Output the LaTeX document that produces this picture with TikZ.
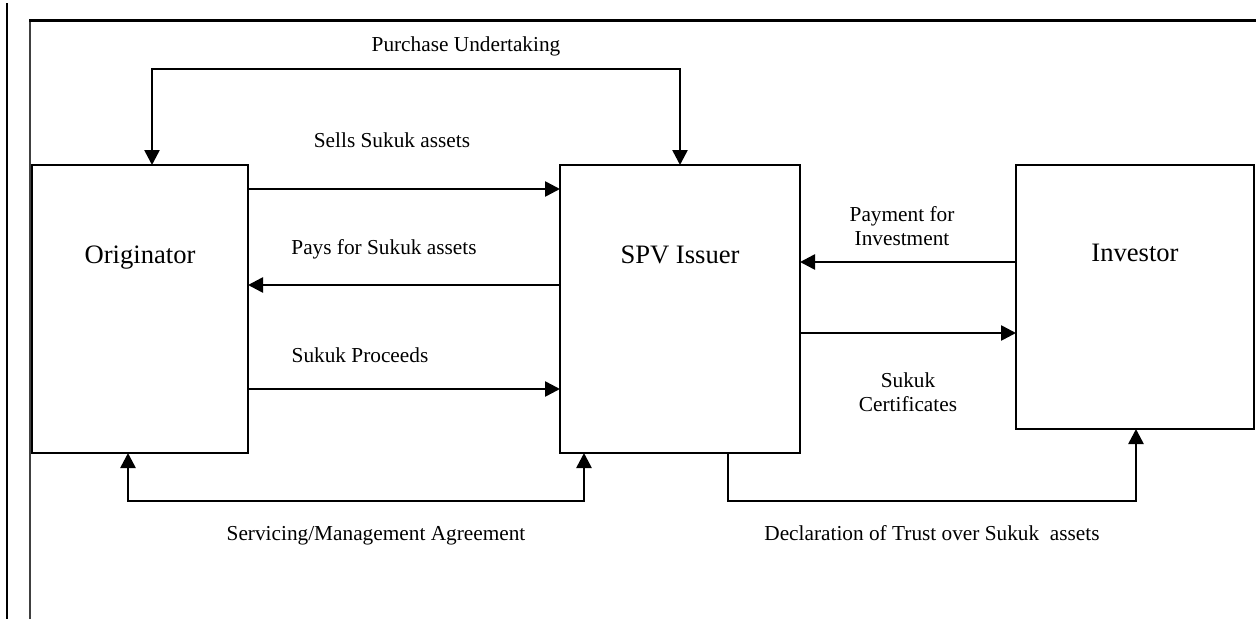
\documentclass[tikz,border=0pt]{standalone}
\usepackage{fontspec}
\setmainfont{Liberation Serif}
\usepackage{tikz}
\usetikzlibrary{positioning,arrows.meta}
\tikzset{
	entity/.style={draw=black, line width=2pt, inner sep=0pt, outer sep=0pt, anchor=north west, text height=18pt, font=\fontsize{26.6}{32}\selectfont},
	flow/.style={line width=2.6pt, -{Triangle[length=15pt,width=15pt]}},
	flowboth/.style={line width=2.6pt, {Triangle[length=15pt,width=15pt]}-{Triangle[length=15pt,width=15pt]}},
	lbl/.style={inner sep=0pt, align=center, font=\fontsize{21.3}{24}\selectfont}
}

\begin{document}
\begin{tikzpicture}[x=1pt,y=-1pt]
		\useasboundingbox (0,0) rectangle (1256,619);
		% page frame
		\draw[line width=2pt] (7,3) -- (7,619);
		\draw[line width=2pt,black!75] (30,619) -- (30,20);
		\draw[line width=3pt] (29,20) -- (1256,20);
		
		\node[entity, minimum width=216pt, minimum height=288pt, text depth=110pt] (orig) at (32,165) {Originator};
		\node[entity, minimum width=240pt, minimum height=288pt, text depth=110pt, right=312pt of orig.north east, anchor=north west] (spv) {SPV Issuer};
		\node[entity, minimum width=238pt, minimum height=264pt, text depth=90pt, right=216pt of spv.north east, anchor=north west] (inv) {Investor};
		
		\draw[flowboth] ([xshift=120pt]orig.north west) -- ++(0,-96) -| ([xshift=120pt]spv.north west);
		\draw[flow] ([yshift=-24pt]orig.north east) -- ([yshift=-24pt]spv.north west);
		\draw[flow] ([yshift=-120pt]spv.north west) -- ([yshift=-120pt]orig.north east);
		\draw[flow] ([yshift=-224pt]orig.north east) -- ([yshift=-224pt]spv.north west);
		\draw[flow] ([yshift=-97pt]inv.north west) -- ([yshift=-97pt]spv.north east);
		\draw[flow] ([yshift=-168pt]spv.north east) -- ([yshift=-168pt]inv.north west);
		\draw[flowboth] ([xshift=96pt]orig.south west) -- ++(0,48) -| ([xshift=24pt]spv.south west);
		\draw[flow] ([xshift=168pt]spv.south west) -- ++(0,48) -| ([xshift=120pt]inv.south west);
		
		\node[lbl] (purchase) at (466,46) {Purchase Undertaking};
		\node[lbl] (sells) at (392,140) {Sells Sukuk assets};
		\node[lbl] (pays) at (384,249) {Pays for Sukuk assets};
		\node[lbl] (proceeds) at (360,355) {Sukuk Proceeds};
		\node[lbl] (payment) at (902,226) {Payment for\\Investment};
		\node[lbl] (certs) at (908,392) {Sukuk\\Certificates};
		\node[lbl, anchor=base] (servicing) at (376,540) {Servicing/Management Agreement};
		\node[lbl, anchor=base] (trust) at (932,540) {Declaration of Trust over Sukuk\ \ assets};
	\end{tikzpicture}
\end{document}
